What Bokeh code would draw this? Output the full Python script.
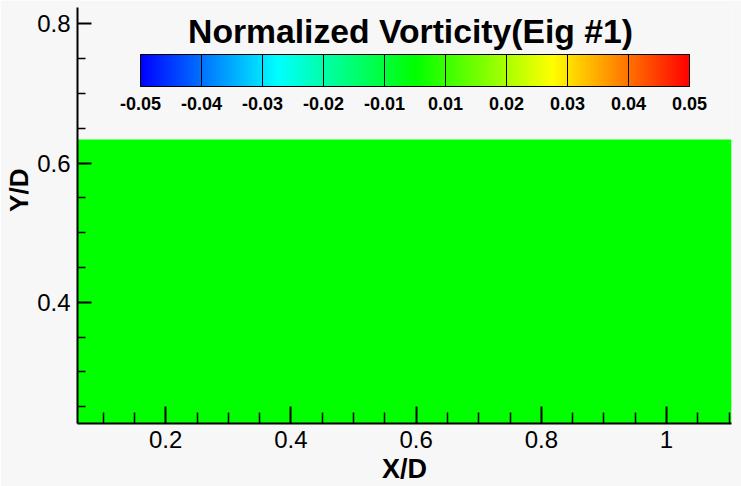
import numpy as np
from bokeh.plotting import figure
from bokeh.models import (Range1d, FixedTicker, PrintfTickFormatter, LinearColorMapper,
                          ColorBar, Label, ColumnDataSource)
from bokeh.embed import file_html
from bokeh.resources import INLINE

# ---------------- data ----------------
field_x = [0.059, 1.104]          # X/D extent of the measured field
field_y = [0.226, 0.634]          # Y/D extent of the measured field
vorticity = [0.0]                 # normalized vorticity (eigenmode #1) in the field
levels = [-0.05, -0.04, -0.03, -0.02, -0.01, 0.01, 0.02, 0.03, 0.04, 0.05]
level_labels = ["-0.05", "-0.04", "-0.03", "-0.02", "-0.01", "0.01", "0.02", "0.03", "0.04", "0.05"]
x_ticks = [0.2, 0.4, 0.6, 0.8, 1.0]
x_minor = [0.1, 0.15, 0.25, 0.3, 0.35, 0.45, 0.5, 0.55, 0.65, 0.7, 0.75, 0.85, 0.9, 0.95, 1.05, 1.1]
y_ticks = [0.4, 0.6, 0.8]
y_minor = [0.25, 0.3, 0.35, 0.45, 0.5, 0.55, 0.65, 0.7, 0.75]
title_text = "Normalized Vorticity(Eig #1)"

FONT = "Liberation Sans"
BG = "#f7f7f7"


def rainbow(f):
    f = min(max(f, 0.0), 1.0)
    if f < 0.25:
        r, g, b = 0, 4 * f, 1
    elif f < 0.5:
        r, g, b = 0, 1, 1 - 4 * (f - 0.25)
    elif f < 0.75:
        r, g, b = 4 * (f - 0.5), 1, 0
    else:
        r, g, b = 1, 1 - 4 * (f - 0.75), 0
    return "#%02x%02x%02x" % (int(round(r * 255)), int(round(g * 255)), int(round(b * 255)))


lo, hi = levels[0], levels[-1]
value_palette = [rainbow((i + 0.5) / 256) for i in range(256)]
field_mapper = LinearColorMapper(palette=value_palette, low=lo, high=hi)

n_seg = len(levels) - 1
N = n_seg * 40
idx_palette = [rainbow((i + 0.5) / N) for i in range(N)]
bar_mapper = LinearColorMapper(palette=idx_palette, low=0, high=n_seg)

# ---------------- figure ----------------
p = figure(width=741, height=486, output_backend="svg", toolbar_location=None,
           x_range=Range1d(0.0591, 1.1038), y_range=Range1d(0.2259, 0.8235),
           min_border_left=77, min_border_right=10, min_border_top=7, min_border_bottom=63,
           background_fill_color=BG, border_fill_color=BG, outline_line_color=None)
p.grid.visible = False

src = ColumnDataSource(dict(left=[field_x[0]], right=[field_x[1]],
                            bottom=[field_y[0]], top=[field_y[1]], w=vorticity))
p.quad(left="left", right="right", bottom="bottom", top="top", source=src,
       fill_color={"field": "w", "transform": field_mapper}, line_color=None)

for ax in (p.xaxis[0], p.yaxis[0]):
    ax.axis_line_width = 2
    ax.axis_line_color = "black"
    ax.major_tick_out = 0
    ax.minor_tick_out = 0
    ax.major_tick_line_width = 2
    ax.minor_tick_line_width = 1.5
    ax.major_tick_line_color = "black"
    ax.minor_tick_line_color = "black"
    ax.major_label_text_font = FONT
    ax.major_label_text_font_size = "24px"
    ax.major_label_text_color = "black"
    ax.formatter = PrintfTickFormatter(format="%g")
    ax.axis_label_text_font = FONT
    ax.axis_label_text_font_style = "bold"
    ax.axis_label_text_color = "black"

xa, ya = p.xaxis[0], p.yaxis[0]
xa.ticker = FixedTicker(ticks=x_ticks, minor_ticks=x_minor)
ya.ticker = FixedTicker(ticks=y_ticks, minor_ticks=y_minor)
xa.major_tick_in = 17
xa.minor_tick_in = 11
ya.major_tick_in = 14
ya.minor_tick_in = 8
xa.major_label_standoff = 7
ya.major_label_standoff = 7
ya.major_label_orientation = "horizontal"

xa.axis_label = "X/D"
xa.axis_label_text_font_size = "27px"
xa.axis_label_standoff = 3
ya.axis_label = "\u00a0" * 7 + "Y/D"
ya.axis_label_text_font_size = "26px"
ya.axis_label_standoff = 0

cb = ColorBar(color_mapper=bar_mapper, orientation="horizontal", location=(63, 311),
              width=549, height=32, padding=0,
              ticker=FixedTicker(ticks=list(range(len(levels)))),
              major_label_overrides={i: s for i, s in enumerate(level_labels)},
              major_label_text_font=FONT, major_label_text_font_size="18px",
              major_label_text_font_style="bold", major_label_text_color="black",
              label_standoff=10,
              major_tick_in=32, major_tick_out=0, major_tick_line_color="black",
              major_tick_line_width=1,
              minor_tick_line_color=None,
              bar_line_color="black", bar_line_width=1,
              border_line_color=None, background_fill_alpha=0)
p.add_layout(cb)

p.add_layout(Label(x=333, y=393, x_units="screen", y_units="screen", text=title_text,
                   text_font=FONT, text_font_size="33.7px", text_font_style="bold",
                   text_align="center", text_baseline="alphabetic", text_color="black"))

open("out.html", "w").write(file_html(p, INLINE))
